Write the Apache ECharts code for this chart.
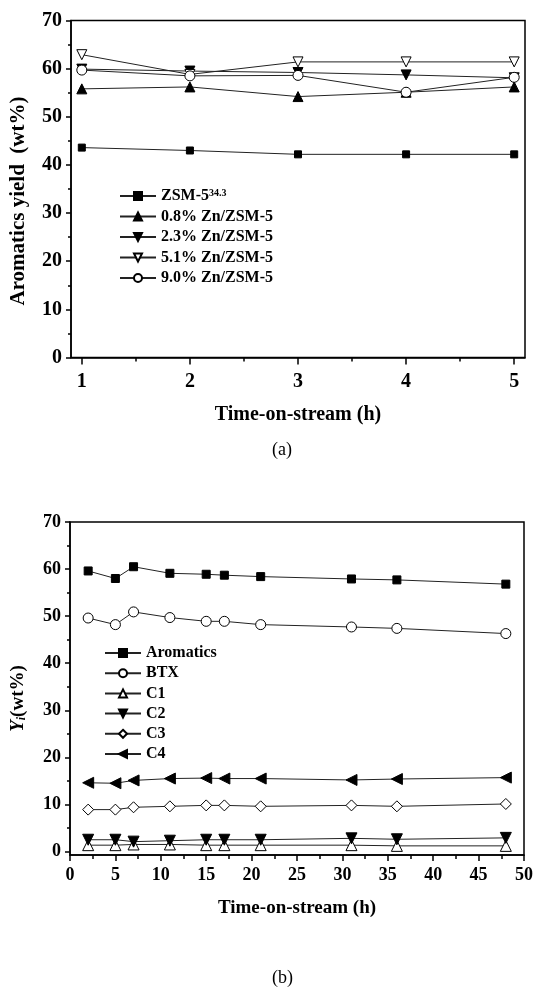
<!DOCTYPE html>
<html>
<head>
<meta charset="utf-8">
<title>Aromatics yield vs time-on-stream</title>
<script src="https://cdn.jsdelivr.net/npm/echarts@6/dist/echarts.min.js"></script>
<style>
	html, body { margin: 0; padding: 0; background: #fff; }
	#chart { width: 536px; height: 988px; }
</style>
</head>
<body>
<div id="chart"></div>
<script>
	// ---- (a) aromatics yield over 5 h, catalysts with different Zn loading
	const timeA = [1, 2, 3, 4, 5];
	const namesA = ["ZSM-5", "0.8% Zn/ZSM-5", "2.3% Zn/ZSM-5", "5.1% Zn/ZSM-5", "9.0% Zn/ZSM-5"];
	const zsmSup = "34.3";
	const zsm5 = [43.6, 43.0, 42.2, 42.2, 42.2];
	const zn08 = [55.8, 56.2, 54.2, 55.1, 56.2];
	const zn23 = [59.9, 59.5, 59.2, 58.7, 58.1];
	const zn51 = [62.9, 58.8, 61.4, 61.4, 61.4];
	const zn90 = [59.7, 58.5, 58.6, 55.1, 58.2];

	// ---- (b) product yields over 48 h
	const timeB = [2, 5, 7, 11, 15, 17, 21, 31, 36, 48];
	const namesB = ["Aromatics", "BTX", "C1", "C2", "C3", "C4"];
	const aromatics = [59.6, 58.0, 60.5, 59.1, 58.9, 58.7, 58.4, 57.9, 57.7, 56.8];
	const btx = [49.6, 48.2, 50.9, 49.7, 48.9, 48.9, 48.2, 47.7, 47.4, 46.3];
	const c1 = [1.35, 1.35, 1.5, 1.5, 1.35, 1.35, 1.35, 1.35, 1.2, 1.2];
	const c2 = [2.5, 2.5, 2.1, 2.3, 2.5, 2.5, 2.5, 2.8, 2.6, 2.9];
	const c3 = [8.9, 8.9, 9.4, 9.6, 9.8, 9.8, 9.6, 9.8, 9.6, 10.1];
	const c4 = [14.6, 14.5, 15.1, 15.5, 15.6, 15.5, 15.5, 15.2, 15.4, 15.7];

	// tick labels
	const yTicks = [0, 10, 20, 30, 40, 50, 60, 70];
	const yMinorB = [5, 15, 25, 35, 45, 55, 65];
	const xMinorA = [1.5, 2.5, 3.5, 4.5];

	const FONT = "Liberation Serif";
	const pair = (xs, ys) => xs.map((x, i) => [x, ys[i]]);

	function line(name, xs, ys, xi, yi, symbol, size, filled, rotate) {
		return {
			name: name,
			type: "line",
			xAxisIndex: xi,
			yAxisIndex: yi,
			data: pair(xs, ys),
			symbol: symbol,
			symbolSize: size,
			symbolRotate: rotate || 0,
			showAllSymbol: true,
			animation: false,
			lineStyle: { color: "#222", width: 1 },
			itemStyle: {
				color: filled ? "#000" : "#fff",
				borderColor: "#000",
				borderWidth: 1
			}
		};
	}

	const tickLbl = (size) => ({
		color: "#000",
		fontFamily: FONT,
		fontWeight: "bold",
		fontSize: size
	});

	const chart = echarts.init(document.getElementById("chart"));
	chart.setOption({
		animation: false,
		grid: [{
			left: 70, top: 20.5, width: 455, height: 337,
			show: true, borderColor: "#000", borderWidth: 1.5
		}, {
			left: 70, top: 522, width: 455, height: 333,
			show: true, borderColor: "#000", borderWidth: 1.5
		}],
		xAxis: [{
			gridIndex: 0, type: "value", position: "bottom",
			min: 0.9, max: 5.1,
			axisLine: { onZero: false, lineStyle: { color: "#000", width: 1.5 } },
			axisTick: { customValues: timeA, length: 7, lineStyle: { color: "#000", width: 1.5 } },
			axisLabel: Object.assign({ customValues: timeA, margin: 14 }, tickLbl(20)),
			splitLine: { show: false },
			name: "Time-on-stream (h)", nameLocation: "middle", nameGap: 47,
			nameTextStyle: tickLbl(20)
		}, {
			gridIndex: 0, type: "value", position: "bottom",
			min: 0.9, max: 5.1,
			axisLine: { show: false, onZero: false },
			axisTick: { customValues: xMinorA, length: 4, lineStyle: { color: "#000", width: 1.5 } },
			axisLabel: { show: false },
			splitLine: { show: false }
		}, {
			gridIndex: 1, type: "value", position: "bottom",
			min: 0, max: 50, interval: 5,
			axisLine: { onZero: false, lineStyle: { color: "#000", width: 1.5 } },
			axisTick: { length: 6, lineStyle: { color: "#000", width: 1.5 } },
			minorTick: { show: true, splitNumber: 2, length: 4, lineStyle: { color: "#000", width: 1.5 } },
			axisLabel: Object.assign({ margin: 11 }, tickLbl(18)),
			splitLine: { show: false },
			name: "Time-on-stream (h)", nameLocation: "middle", nameGap: 44,
			nameTextStyle: tickLbl(19)
		}],
		yAxis: [{
			gridIndex: 0, type: "value", position: "left",
			min: 0, max: 70, interval: 10,
			axisLine: { show: true, lineStyle: { color: "#000", width: 1.5 } },
			axisTick: { show: true, length: 5, lineStyle: { color: "#000", width: 1.5 } },
			minorTick: { show: true, splitNumber: 2, length: 3, lineStyle: { color: "#000", width: 1.5 } },
			axisLabel: Object.assign({ margin: 9 }, tickLbl(20)),
			splitLine: { show: false },
			name: "Aromatics yield  (wt%)", nameLocation: "middle", nameGap: 42, nameRotate: 90,
			nameTextStyle: Object.assign({ padding: [0, 24, 0, 0] }, tickLbl(21))
		}, {
			gridIndex: 1, type: "value", position: "left",
			min: -0.74, max: 70,
			axisLine: { show: true, onZero: false, lineStyle: { color: "#000", width: 1.5 } },
			axisTick: { show: true, customValues: yTicks, length: 5, lineStyle: { color: "#000", width: 1.5 } },
			axisLabel: Object.assign({ customValues: yTicks, margin: 9 }, tickLbl(18)),
			splitLine: { show: false },
			name: "{y|Y}{i|i}{t|(wt%)}", nameLocation: "middle", nameGap: 42, nameRotate: 90,
			nameTextStyle: Object.assign({
				padding: [0, 20, 0, 0],
				rich: {
					y: { fontFamily: FONT, fontWeight: "bold", fontStyle: "italic", fontSize: 19, color: "#000", lineHeight: 20 },
					i: { fontFamily: FONT, fontWeight: "bold", fontStyle: "italic", fontSize: 12, color: "#000", verticalAlign: "bottom", lineHeight: 20 },
					t: { fontFamily: FONT, fontWeight: "bold", fontSize: 19, color: "#000", lineHeight: 20 }
				}
			}, tickLbl(19))
		}, {
			gridIndex: 1, type: "value", position: "left",
			min: -0.74, max: 70,
			axisLine: { show: false, onZero: false },
			axisTick: { show: true, customValues: yMinorB, length: 3, lineStyle: { color: "#000", width: 1.5 } },
			axisLabel: { show: false },
			splitLine: { show: false }
		}],
		legend: [{
			data: namesA,
			orient: "vertical",
			left: 114, top: 183,
			itemWidth: 36, itemHeight: 10, itemGap: 4.5,
			selectedMode: false,
			formatter: (n) => n === "ZSM-5" ? "{b|ZSM-5}{s|" + zsmSup + "}" : "{b|" + n + "}",
			textStyle: {
				rich: {
					b: { fontFamily: FONT, fontWeight: "bold", fontSize: 16, color: "#000", lineHeight: 16 },
					s: { fontFamily: FONT, fontWeight: "bold", fontSize: 10, color: "#000", verticalAlign: "top", lineHeight: 16 }
				}
			}
		}, {
			data: namesB,
			orient: "vertical",
			left: 99, top: 640,
			itemWidth: 36, itemHeight: 10, itemGap: 4.2,
			selectedMode: false,
			textStyle: { fontFamily: FONT, fontWeight: "bold", fontSize: 16, color: "#000", lineHeight: 16 }
		}],
		graphic: [{
			type: "text", left: 272, top: 441,
			style: { text: "(a)", fontFamily: FONT, fontSize: 18, fill: "#000" }
		}, {
			type: "text", left: 272, top: 969,
			style: { text: "(b)", fontFamily: FONT, fontSize: 18, fill: "#000" }
		}],
		series: [
			line(namesA[0], timeA, zsm5, 0, 0, "rect", 7, true),
			line(namesA[1], timeA, zn08, 0, 0, "triangle", 10, true),
			line(namesA[2], timeA, zn23, 0, 0, "triangle", 10, true, 180),
			line(namesA[3], timeA, zn51, 0, 0, "triangle", 10, false, 180),
			line(namesA[4], timeA, zn90, 0, 0, "circle", 10, false),
			line(namesB[0], timeB, aromatics, 2, 1, "rect", 8, true),
			line(namesB[1], timeB, btx, 2, 1, "circle", 10, false),
			line(namesB[2], timeB, c1, 2, 1, "triangle", 11, false),
			line(namesB[3], timeB, c2, 2, 1, "triangle", 11, true, 180),
			line(namesB[4], timeB, c3, 2, 1, "diamond", 11, false),
			line(namesB[5], timeB, c4, 2, 1, "triangle", 11, true, 90)
		]
	});
</script>
</body>
</html>
